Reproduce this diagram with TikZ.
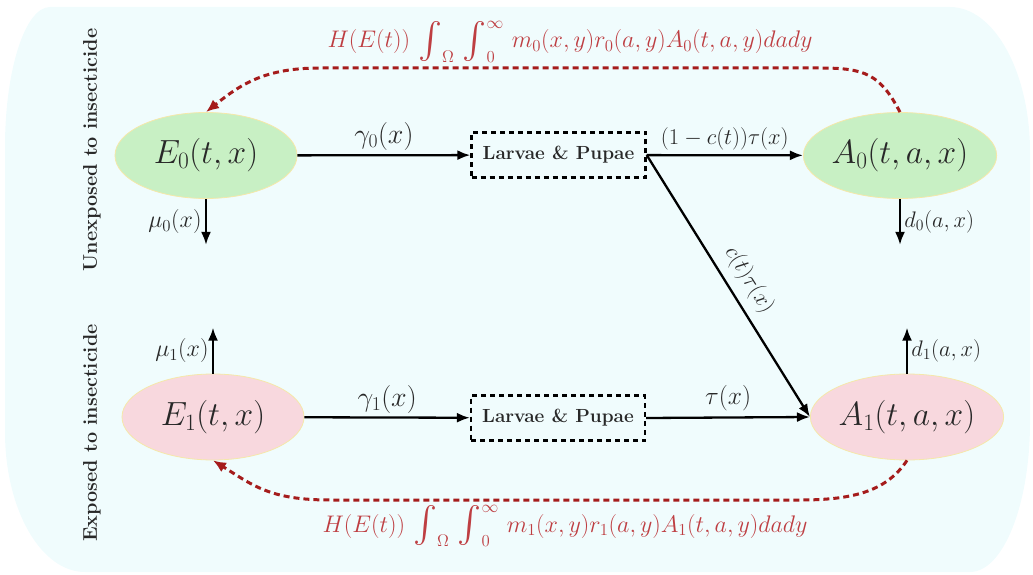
\RequirePackage{fix-cm}
\documentclass[tikz,border=0pt]{standalone}
\usepackage{amsmath}
\usepackage{graphicx}
\usetikzlibrary{arrows.meta,shapes.geometric,calc}

\definecolor{bgcyan}{RGB}{240,252,253}
\definecolor{stategreen}{RGB}{200,240,196}
\definecolor{statepink}{RGB}{248,216,222}
\definecolor{rimyellow}{RGB}{245,232,170}
\definecolor{feedred}{RGB}{165,28,28}
\definecolor{feedtext}{RGB}{190,62,66}
\definecolor{inkgray}{RGB}{40,40,40}

% enlarged integral sign, centred on the math axis, limits set as scripts
\newcommand{\tallint}{\mathop{\vcenter{\hbox{\scalebox{1.45}{$\int$}}}}\nolimits}

\begin{document}
\begin{tikzpicture}[x=1pt,y=1pt,
  state/.style={ellipse, draw=rimyellow, line width=0.8pt, inner sep=0pt,
    minimum width=182pt, minimum height=86pt, text=inkgray,
    font=\fontsize{33.5}{36}\selectfont},
  stagebox/.style={draw, line width=2.3pt, dash pattern=on 5pt off 4pt,
    minimum width=174pt, minimum height=45pt, inner sep=0pt, text=inkgray,
    font=\bfseries\fontsize{19}{21}\selectfont},
  flow/.style={line width=2.3pt, -{Latex[length=13pt,width=10pt]}},
  feed/.style={draw=feedred, line width=3pt, dash pattern=on 6pt off 4pt,
    -{Latex[length=13pt,width=11pt]}},
  gamlab/.style={text=inkgray, font=\fontsize{28}{30}\selectfont},
  biglab/.style={text=inkgray, font=\fontsize{25.5}{28}\selectfont},
  smalllab/.style={text=inkgray, font=\fontsize{22.5}{24}\selectfont},
  mulab/.style={text=inkgray, font=\fontsize{24}{26}\selectfont},
  feedlab/.style={text=feedtext, font=\fontsize{24}{26}\selectfont, anchor=base},
  sidelab/.style={rotate=90, text=inkgray, font=\bfseries\fontsize{19.8}{22}\selectfont}
]
\useasboundingbox (0,0) rectangle (1033,574);

% rounded backdrop
\fill[bgcyan] (50,567) -- (950,567)
  arc[start angle=90, end angle=0, x radius=80, y radius=145]
  -- (1030,152)
  arc[start angle=0, end angle=-90, x radius=60, y radius=150]
  -- (85,2)
  arc[start angle=270, end angle=180, x radius=80, y radius=140]
  -- (5,427)
  arc[start angle=180, end angle=90, x radius=45, y radius=140];

% compartments
\node[state, fill=stategreen] (E0) at (206,418.5) {$E_0(t,x)$};
\node[state, fill=stategreen] (A0) at (900,418.5) {$A_0(t,a,x)$};
\node[state, fill=statepink]  (E1) at (213,157)   {$E_1(t,x)$};
\node[state, fill=statepink]  (A1) at (907,157)   {$A_1(t,a,x)$};

\node[stagebox] (LT) at (558.5,419) {Larvae \& Pupae};
\node[stagebox] (LB) at (558,156)   {Larvae \& Pupae};

% side captions
\node[sidelab] (capU) at (92,424) {Unexposed to insecticide};
\node[sidelab] (capE) at (92,141) {Exposed to insecticide};

% development flows
\draw[flow] (E0) -- node[gamlab, above=0pt] {$\gamma_0(x)$} (LT);
\draw[flow] (E1) -- node[gamlab, above=0pt] {$\gamma_1(x)$} (LB);
\draw[flow] (LT) -- node[smalllab, above=1pt] {$(1-c(t))\tau(x)$} (A0);
\draw[flow] (LB.east) -- node[biglab, above=2pt] {$\tau(x)$} (A1.west);
\draw[flow] (LT.east) -- node[smalllab, pos=0.52, sloped, above=5pt] {$c(t)\tau(x)$} (A1.west);

% mortality
\coordinate (m0) at ($(E0.south)+(0,-46)$);
\coordinate (m1) at ($(E1.north)+(0,46)$);
\coordinate (dd0) at ($(A0.south)+(0,-46)$);
\coordinate (dd1) at ($(A1.north)+(0,46)$);
\draw[flow] (E0.south) -- node[mulab, left=0pt] {$\mu_0(x)$} (m0);
\draw[flow] (E1.north) -- node[mulab, left=0pt] {$\mu_1(x)$} (m1);
\draw[flow] (A0.south) -- node[smalllab, right=0pt] {$d_0(a,x)$} (dd0);
\draw[flow] (A1.north) -- node[smalllab, right=0pt] {$d_1(a,x)$} (dd1);

% egg laying feedback
\coordinate (tR) at (820,506);
\coordinate (tL) at (320,506);
\draw[feed] (A0.north) .. controls +(-20,38) and +(45,0) .. (tR)
  -- node[feedlab, yshift=20pt]
     {$H(E(t))\,\tallint_{\Omega}\,\tallint_0^{\infty}\, m_0(x,y)r_0(a,y)A_0(t,a,y)dady$} (tL)
  .. controls +(-55,0) and +(35,28) .. (E0.north);

\coordinate (bR) at (800,74);
\coordinate (bL) at (330,74);
\draw[feed] (A1.south) .. controls +(-20,-30) and +(55,0) .. (bR)
  -- node[feedlab, yshift=-32pt]
     {$H(E(t))\,\tallint_{\Omega}\,\tallint_0^{\infty}\, m_1(x,y)r_1(a,y)A_1(t,a,y)dady$} (bL)
  .. controls +(-60,0) and +(40,-25) .. (E1.south);
\end{tikzpicture}
\end{document}
